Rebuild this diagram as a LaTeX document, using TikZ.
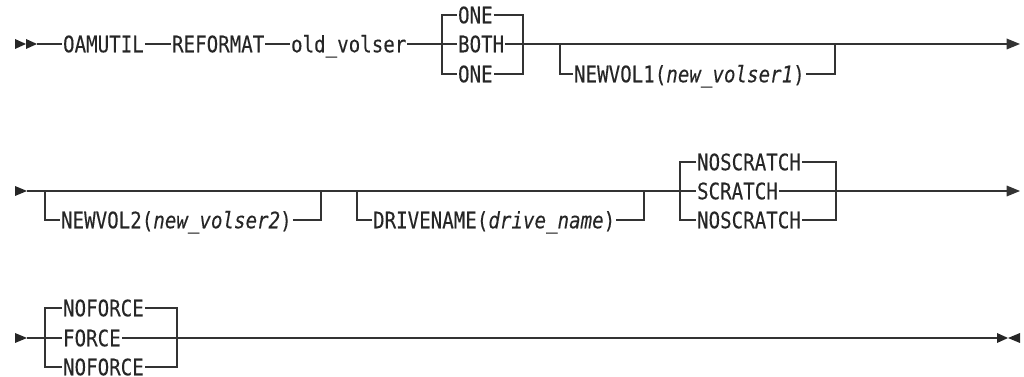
\documentclass[tikz,border=0pt]{standalone}
\usepackage{fontspec}
\usepackage{tikz}
\usetikzlibrary{positioning, arrows.meta}

\newfontfamily\railfont{DejaVu Sans Mono}[FakeStretch=0.845, FakeBold=0.15]

\begin{document}
\begin{tikzpicture}[
    x=0.75pt, y=-0.75pt,
    kw/.style={
        anchor=west, inner xsep=0.6pt, inner ysep=0pt,
        text height=13.15pt, text depth=0.75pt, text=black!85,
        font=\railfont\fontsize{17}{20}\selectfont,
    },
    rail/.style={draw=black!80, line width=0.9pt},
    endarr/.style={rail, -{Triangle[length=10pt, width=8pt]}},
    tip/.style={fill=black!85},
]
\useasboundingbox (0,0) rectangle (1024,377);

% ── Row 1: command, copies, optional NEWVOL1 ─────────────────────────
\fill[tip] (15,39) -- (26,44) -- (15,49) -- cycle;
\fill[tip] (26,39) -- (37,44) -- (26,49) -- cycle;
\coordinate (r1start) at (37,44);
\node[kw] (oamutil)  at (62,44)  {OAMUTIL};
\node[kw] (reformat) at (171,44) {REFORMAT};
\node[kw] (oldvol)   at (290,44) {old\_volser};

\coordinate (cpyl) at (442,44);
\coordinate (cpyr) at (523,44);
\node[kw] (onetop) at (457,15) {ONE};
\node[kw] (both)   at (457,44) {BOTH};
\node[kw] (onebot) at (457,74) {ONE};

\coordinate (nv1l) at (560,44);
\coordinate (nv1r) at (835,44);
\node[kw] (newvol1) at (573,74) {NEWVOL1(\textit{new\_volser1})};
\coordinate (r1end) at (1020,44);

% ── Row 2: optional NEWVOL2, DRIVENAME, scratch choice ───────────────
\fill[tip] (15,186) -- (27,191) -- (15,196) -- cycle;
\coordinate (r2start) at (27,191);
\coordinate (nv2l) at (45,191);
\coordinate (nv2r) at (321,191);
\node[kw] (newvol2) at (60,220) {NEWVOL2(\textit{new\_volser2})};

\coordinate (drvl) at (357,191);
\coordinate (drvr) at (644,191);
\node[kw] (drive) at (372,220) {DRIVENAME(\textit{drive\_name})};

\coordinate (scrl) at (680,191);
\coordinate (scrr) at (836,191);
\node[kw] (noscrtop) at (696,162) {NOSCRATCH};
\node[kw] (scratch)  at (696,191) {SCRATCH};
\node[kw] (noscrbot) at (696,220) {NOSCRATCH};
\coordinate (r2end) at (1020,191);

% ── Row 3: force choice and end of statement ─────────────────────────
\fill[tip] (15,333) -- (27,338) -- (15,343) -- cycle;
\coordinate (r3start) at (27,338);
\coordinate (frcl) at (45,338);
\coordinate (frcr) at (177,338);
\node[kw] (nofrctop) at (62,308) {NOFORCE};
\node[kw] (force)    at (62,338) {FORCE};
\node[kw] (nofrcbot) at (62,367) {NOFORCE};
\coordinate (stuba) at (183,338);
\coordinate (stubb) at (207,338);
\coordinate (r3end) at (997,338);
\fill[tip] (997,333) -- (1008,338) -- (997,343) -- cycle;
\fill[tip] (1020,333) -- (1008,338) -- (1020,343) -- cycle;

% ── Rails ────────────────────────────────────────────────────────────
\draw[rail] (r1start) -- (oamutil);
\draw[rail] (oamutil) -- (reformat);
\draw[rail] (reformat) -- (oldvol);
\draw[rail] (oldvol) -- (cpyl) -- (both);
\draw[rail] (onetop.west) -| (cpyl) |- (onebot.west);
\draw[rail] (both) -- (cpyr);
\draw[rail] (onetop.east) -| (cpyr) |- (onebot.east);
\draw[endarr] (cpyr) -- (r1end);
\draw[rail] (nv1l) |- (newvol1.west);
\draw[rail] (newvol1.east) -| (nv1r);

\draw[rail] (r2start) -- (scrl) -- (scratch);
\draw[rail] (nv2l) |- (newvol2.west);
\draw[rail] (newvol2.east) -| (nv2r);
\draw[rail] (drvl) |- (drive.west);
\draw[rail] (drive.east) -| (drvr);
\draw[rail] (noscrtop.west) -| (scrl) |- (noscrbot.west);
\draw[rail] (noscrtop.east) -| (scrr) |- (noscrbot.east);
\draw[endarr] (scratch) -- (r2end);

\draw[rail] (r3start) -- (frcl) -- (force);
\draw[rail] (nofrctop.west) -| (frcl) |- (nofrcbot.west);
\draw[rail] (nofrctop.east) -| (frcr) |- (nofrcbot.east);
\draw[rail] (force) -- (r3end);
\draw[rail, line width=1.6pt] (stuba) -- (stubb);

\end{tikzpicture}
\end{document}
